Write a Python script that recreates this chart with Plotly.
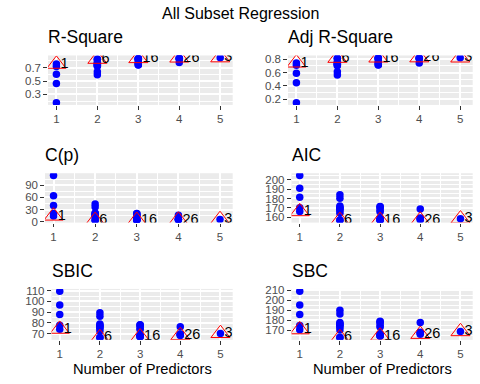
import plotly.graph_objects as go

# ---- data: all-subset regression results (31 models) ----
n_predictors = [1]*5 + [2]*10 + [3]*10 + [4]*5 + [5]
rsquare = [0.7528, 0.7183, 0.6024, 0.4640, 0.1753,
           0.8268, 0.8264, 0.7809, 0.7609, 0.7482, 0.7412, 0.7310, 0.7216, 0.6369, 0.5922,
           0.8370, 0.8369, 0.8348, 0.8268, 0.8264, 0.7835, 0.7750, 0.7542, 0.7443, 0.7413,
           0.8454, 0.8384, 0.8376, 0.8351, 0.7766,
           0.8489]
adj_rsquare = [0.7446, 0.7090, 0.5892, 0.4461, 0.1478,
               0.8148, 0.8144, 0.7658, 0.7444, 0.7309, 0.7233, 0.7125, 0.7024, 0.6118, 0.5641,
               0.8196, 0.8194, 0.8171, 0.8083, 0.8078, 0.7603, 0.7509, 0.7279, 0.7168, 0.7135,
               0.8225, 0.8144, 0.8136, 0.8107, 0.7435,
               0.8199]
cp = [14.53, 20.47, 40.42, 64.24, 113.92,
      3.81, 3.87, 11.70, 15.15, 17.32, 18.54, 20.29, 21.92, 36.49, 44.18,
      4.05, 4.07, 4.43, 5.80, 5.87, 13.25, 14.72, 18.30, 20.01, 20.52,
      4.61, 5.82, 5.94, 6.37, 16.44,
      6.00]
aic = [166.03, 170.21, 181.24, 190.80, 204.59,
       156.65, 156.72, 164.17, 166.97, 168.62, 169.50, 170.74, 171.84, 180.34, 184.05,
       156.70, 156.73, 157.14, 158.64, 158.72, 165.79, 167.02, 169.85, 171.12, 171.49,
       157.02, 158.44, 158.58, 159.07, 168.79,
       158.28]
sbic = [74.10, 77.81, 87.73, 96.52, 109.48,
        66.27, 66.33, 72.40, 74.72, 76.10, 76.84, 77.88, 78.82, 86.12, 89.38,
        66.98, 67.00, 67.30, 68.41, 68.47, 73.81, 74.76, 76.97, 77.98, 78.27,
        68.15, 69.09, 69.18, 69.50, 76.25,
        70.13]
sbc = [170.43, 174.61, 185.64, 195.20, 208.99,
       162.52, 162.58, 170.03, 172.83, 174.48, 175.37, 176.60, 177.70, 186.20, 189.92,
       164.03, 164.06, 164.47, 165.97, 166.05, 173.11, 174.35, 177.18, 178.45, 178.82,
       165.81, 167.23, 167.38, 167.86, 177.58,
       168.54]
best_index = [1, 6, 16, 26, 31]      # model index of the best model in each size
best_size = [1, 2, 3, 4, 5]
x_ticks = [1, 2, 3, 4, 5]
x_minor = [1.5, 2.5, 3.5, 4.5]

panels = [
    dict(title="R-Square", values=rsquare, ticks=[0.3, 0.5, 0.7], minor=[0.2, 0.4, 0.6, 0.8],
         ticktext=["0.3", "0.5", "0.7"], px=(48, 232.7), py=(51.8, 102.6)),
    dict(title="Adj R-Square", values=adj_rsquare, ticks=[0.2, 0.4, 0.6, 0.8], minor=[0.3, 0.5, 0.7],
         ticktext=["0.2", "0.4", "0.6", "0.8"], px=(288, 472.7), py=(51.8, 102.6)),
    dict(title="C(p)", values=cp, ticks=[0, 30, 60, 90], minor=[15, 45, 75, 105],
         ticktext=["0", "30", "60", "90"], px=(45, 232.7), py=(172.7, 223.4)),
    dict(title="AIC", values=aic, ticks=[160, 170, 180, 190, 200], minor=[155, 165, 175, 185, 195, 205],
         ticktext=["160", "170", "180", "190", "200"], px=(291.5, 472.7), py=(172.7, 223.4)),
    dict(title="SBIC", values=sbic, ticks=[70, 80, 90, 100, 110], minor=[65, 75, 85, 95, 105],
         ticktext=["70", "80", "90", "100", "110"], px=(51.5, 232.7), py=(291.5, 343.8)),
    dict(title="SBC", values=sbc, ticks=[170, 180, 190, 200, 210], minor=[165, 175, 185, 195, 205],
         ticktext=["170", "180", "190", "200", "210"], px=(291.5, 472.7), py=(291.5, 343.8)),
]

W, H = 480, 384
FONT = "Liberation Sans, Arial, Helvetica, sans-serif"
fig = go.Figure()
annotations = []
layout = {}
for i, p in enumerate(panels):
    k = "" if i == 0 else str(i + 1)
    xa, ya = "x" + k, "y" + k
    vals = p["values"]
    best_vals = [vals[j - 1] for j in best_index]
    fig.add_trace(go.Scatter(x=n_predictors, y=vals, mode="markers", xaxis=xa, yaxis=ya,
                             marker=dict(color="blue", size=7.5), showlegend=False, hoverinfo="skip"))
    fig.add_trace(go.Scatter(x=best_size, y=best_vals, mode="markers", xaxis=xa, yaxis=ya,
                             marker=dict(symbol="triangle-up-open", color="red", size=16.5,
                                         line=dict(color="red", width=1)),
                             showlegend=False, hoverinfo="skip"))
    fig.add_trace(go.Scatter(x=[s + 0.1 for s in best_size], y=best_vals, mode="text", xaxis=xa, yaxis=ya,
                             text=[str(b) for b in best_index], textposition="middle right",
                             marker=dict(size=0),
                             textfont=dict(family=FONT, size=14.5, color="black"),
                             showlegend=False, hoverinfo="skip", cliponaxis=True))
    lo, hi = min(vals), max(vals)
    pad = (hi - lo) * 0.05
    x0, x1 = p["px"]
    y0, y1 = p["py"]
    axis_common = dict(showline=False, zeroline=False, showgrid=True, gridcolor="white", gridwidth=1.8,
                       ticks="outside", ticklen=3.7, tickwidth=1.1, tickcolor="#333333",
                       tickfont=dict(family=FONT, size=11.5, color="#4D4D4D"))
    layout["xaxis" + k] = dict(axis_common, domain=[x0 / W, x1 / W], anchor=ya, range=[0.795, 5.305],
                               tickvals=x_ticks, ticktext=[str(t) for t in x_ticks],
                               minor=dict(tickvals=x_minor, showgrid=True, gridcolor="white", gridwidth=0.9))
    layout["yaxis" + k] = dict(axis_common, domain=[1 - y1 / H, 1 - y0 / H], anchor=xa,
                               range=[lo - pad, hi + pad], tickvals=p["ticks"], ticktext=p["ticktext"],
                               minor=dict(tickvals=p["minor"], showgrid=True, gridcolor="white", gridwidth=0.9))
    annotations.append(dict(text=p["title"], x=(x0 - 2) / W, y=1 - (y0 - 18.5) / H, xref="paper", yref="paper",
                            xanchor="left", yanchor="middle", showarrow=False,
                            font=dict(family=FONT, size=17.5, color="black")))
    if i >= 4:
        annotations.append(dict(text="Number of Predictors", x=(x0 + x1) / 2 / W, y=1 - 374 / H,
                                xref="paper", yref="paper", xanchor="center", yanchor="middle",
                                showarrow=False, font=dict(family=FONT, size=14.7, color="black")))

annotations.append(dict(text="All Subset Regression", x=0.5, y=1 - 8.5 / H, xref="paper", yref="paper",
                        xanchor="center", yanchor="middle", showarrow=False,
                        font=dict(family=FONT, size=16, color="black")))

fig.update_layout(width=W, height=H, margin=dict(l=0, r=0, t=0, b=0), autosize=False,
                  paper_bgcolor="white", plot_bgcolor="#EBEBEB", annotations=annotations, **layout)
fig.write_html("out.html", config={"displayModeBar": False},
               post_script="document.body.style.margin='0';document.body.style.overflow='hidden';")
